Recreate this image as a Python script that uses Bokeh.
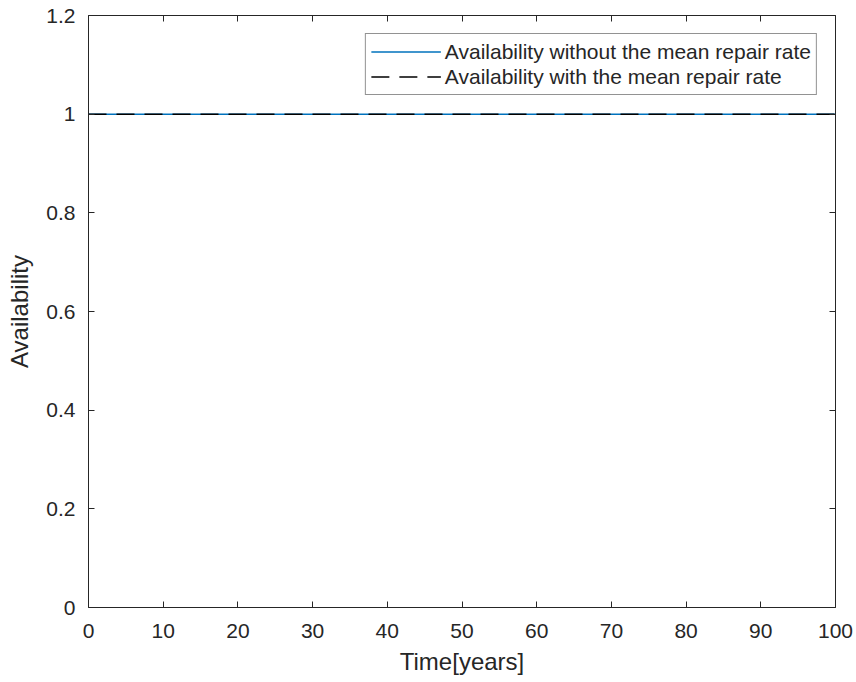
from bokeh.plotting import figure
from bokeh.models import Range1d, LinearAxis, FixedTicker, Legend, LegendItem
from bokeh.embed import file_html
from bokeh.resources import INLINE

time_years = [0, 10, 20, 30, 40, 50, 60, 70, 80, 90, 100]
avail_without = [1, 1, 1, 1, 1, 1, 1, 1, 1, 1, 1]
avail_with = [1, 1, 1, 1, 1, 1, 1, 1, 1, 1, 1]
x_ticks = [0, 10, 20, 30, 40, 50, 60, 70, 80, 90, 100]
y_ticks = [0, 0.2, 0.4, 0.6, 0.8, 1.0, 1.2]

FONT = "Liberation Sans"
DARK = "#262626"

p = figure(output_backend="svg", toolbar_location=None,
           frame_width=747, frame_height=592,
           x_range=Range1d(0, 100), y_range=Range1d(0, 1.2))
p.min_border_left = 88
p.min_border_right = 21
p.min_border_top = 15
p.min_border_bottom = 75
p.background_fill_color = "white"
p.border_fill_color = "white"
p.outline_line_color = None
p.grid.visible = False

r1 = p.line(time_years, avail_without, line_color="#0072BD", line_width=1.5)
r2 = p.line(time_years, avail_with, line_color="black", line_width=1.5, line_dash="18 10")

def style(ax):
    ax.axis_line_color = DARK
    ax.axis_line_width = 1
    ax.major_tick_in = 6
    ax.major_tick_out = 0
    ax.minor_tick_line_color = None
    ax.major_tick_line_color = DARK
    ax.major_label_text_font = FONT
    ax.major_label_text_font_size = "21px"
    ax.major_label_text_color = DARK
    ax.axis_label_text_font = FONT
    ax.axis_label_text_font_size = "24px"
    ax.axis_label_text_font_style = "normal"
    ax.axis_label_text_color = DARK

p.xaxis.ticker = FixedTicker(ticks=x_ticks)
p.yaxis.ticker = FixedTicker(ticks=y_ticks)
p.xaxis.axis_label = "Time[years]"
p.yaxis.axis_label = "Availability"
for ax in p.xaxis + p.yaxis:
    style(ax)
p.xaxis.major_label_standoff = 16
p.yaxis.major_label_standoff = 13
p.xaxis.axis_label_standoff = 7
p.yaxis.axis_label_standoff = 10

top = LinearAxis(ticker=FixedTicker(ticks=x_ticks),
                 major_label_overrides={t: "" for t in x_ticks})
right = LinearAxis(ticker=FixedTicker(ticks=y_ticks),
                   major_label_overrides={t: "" for t in y_ticks})
for ax in (top, right):
    style(ax)
    ax.major_label_standoff = 0
p.add_layout(top, "above")
p.add_layout(right, "right")

legend = Legend(items=[
    LegendItem(label="Availability without the mean repair rate", renderers=[r1]),
    LegendItem(label="Availability with the mean repair rate", renderers=[r2]),
], location="top_right")
legend.margin = 18
legend.padding = 5
legend.spacing = 0
legend.glyph_width = 70
legend.glyph_height = 25
legend.label_height = 25
legend.label_standoff = 4
legend.label_text_font = FONT
legend.label_text_font_size = "21px"
legend.label_text_color = DARK
legend.border_line_color = DARK
legend.border_line_width = 1
legend.background_fill_color = "white"
legend.background_fill_alpha = 1
p.add_layout(legend, "center")

open("out.html", "w").write(file_html(p, INLINE))
